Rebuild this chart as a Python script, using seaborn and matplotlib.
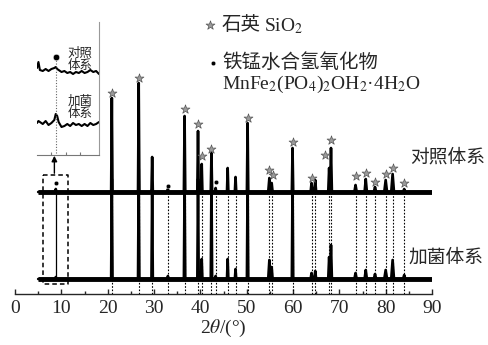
import numpy as np
import pandas as pd
import matplotlib
matplotlib.use('Agg')
import matplotlib.pyplot as plt
import seaborn as sns

# XRD peaks: position (2theta), height in control (top) and with bacteria (bottom)
peak_pos = [8.8, 20.9, 26.7, 29.6, 33.0, 36.6, 39.5, 40.3, 42.4, 43.3, 45.9, 47.6,
            50.2, 54.9, 55.4, 59.9, 64.0, 64.8, 67.8, 68.2, 73.5, 75.7, 77.7, 80.0, 81.5, 84.0]
top_height = [3, 94, 109, 35, 3, 76, 61, 28, 39, 4, 24, 15,
              69, 14, 9, 44, 9, 12, 24, 44, 7, 13, 5, 12, 18, 3]
bottom_height = [2, 100, 110, 90, 3, 100, 100, 20, 100, 3, 20, 10,
                 100, 19, 12, 100, 6, 8, 22, 34, 6, 9, 5, 9, 19, 4]
peak_width = [0.15, 0.15, 0.15, 0.15, 0.15, 0.15, 0.15, 0.15, 0.15, 0.15, 0.15, 0.15,
              0.15, 0.25, 0.2, 0.15, 0.2, 0.2, 0.2, 0.2, 0.25, 0.25, 0.25, 0.3, 0.3, 0.25]

# quartz stars and hydroxide dots (position, height above control baseline)
star_pos = [20.9, 26.7, 36.6, 39.5, 40.3, 42.4, 50.2, 54.8, 55.7, 59.9, 64.0,
            66.8, 68.2, 73.5, 75.7, 77.7, 80.0, 81.5, 84.0]
star_height = [99, 114, 83, 68, 36, 43, 74, 22, 17, 50, 14,
               37, 52, 16, 19, 10, 18, 24, 9]
dot_pos = [8.8, 33.0, 43.3]
dot_height = [9, 6, 10]

# inset (zoom 7.5-11.8 deg)
inset_x = [7.5, 7.6, 7.7, 7.9, 8.1, 8.3, 8.5, 8.7, 8.8, 8.9, 9.0, 9.2, 9.4, 9.6, 9.8,
           10.0, 10.2, 10.4, 10.6, 10.8, 11.0, 11.2, 11.4, 11.6, 11.8]
inset_top = [87, 93, 85, 84, 86, 84, 86, 87, 88, 86, 85, 83, 84, 82, 83, 81, 83, 82,
             84, 82, 83, 85, 83, 84, 81]
inset_bottom = [32, 34, 33, 31, 34, 30, 32, 35, 41, 39, 33, 28, 29, 31, 29, 32, 30, 31,
                29, 31, 29, 32, 30, 31, 33]

top_base = 102
bottom_base = 15
plt.rcParams['mathtext.fontset'] = 'stix'
sns.set_style('ticks')
plt.rcParams['font.family'] = ['Liberation Serif', 'Noto Sans CJK SC']


def trace(base, heights):
    xs, ys = [5.0], [base]
    for p, h, w in sorted(zip(peak_pos, heights, peak_width)):
        xs += [p - w, p, p + w]
        ys += [base, base + h, base]
    xs.append(90.0)
    ys.append(base)
    return pd.DataFrame({'two_theta': xs, 'intensity': ys})


fig = plt.figure(figsize=(4.88, 3.45), dpi=100)
ax = fig.add_axes([15 / 488, 51 / 345, 417 / 488, 294 / 345])
ax.patch.set_alpha(0)

# connectors between the two patterns
ax.vlines(peak_pos[1:], 0, top_base, colors='k', linestyles=(0, (1.5, 1.5)), lw=0.8)
ax.vlines([8.8], bottom_base, top_base, colors='k', lw=0.9)

for base, heights in [(bottom_base, bottom_height), (top_base, top_height)]:
    ax.hlines(base, 5.0, 90.0, colors='k', lw=3.5)
    sns.lineplot(data=trace(base, heights), x='two_theta', y='intensity',
                 sort=False, estimator=None, color='k', lw=1.9, ax=ax)

stars = pd.DataFrame({'x': star_pos, 'y': [top_base + h for h in star_height]})
sns.scatterplot(data=stars, x='x', y='y', marker='*', s=45, color='#9a9a9a',
                edgecolor='#555555', linewidth=0.5, ax=ax, zorder=5)
dots = pd.DataFrame({'x': dot_pos, 'y': [top_base + h for h in dot_height]})
sns.scatterplot(data=dots, x='x', y='y', marker='o', s=10, color='k', ax=ax, zorder=5)

# dashed box and arrow to inset
ax.plot([6.0, 11.4, 11.4, 6.0, 6.0], [119, 119, 10, 10, 119], 'k--', lw=1.1, dashes=(3, 2))
ax.annotate('', xy=(8.5, 141), xytext=(8.5, 118),
            arrowprops=dict(arrowstyle='-|>', color='k', lw=1.0, mutation_scale=8))

# legend marks
sns.scatterplot(x=[42.1], y=[269], marker='*', s=45, color='#9a9a9a',
                edgecolor='#555555', linewidth=0.5, ax=ax)
sns.scatterplot(x=[42.7], y=[231], marker='o', s=10, color='k', ax=ax)

ax.set_xlim(0, 90)
ax.set_ylim(0, 294)
ax.set_xticks(range(0, 91, 10))
ax.set_xticks(range(5, 90, 10), minor=True)
ax.set_yticks([])
for s in ['left', 'right', 'top']:
    ax.spines[s].set_visible(False)
ax.spines['bottom'].set_linewidth(1.0)
ax.tick_params(axis='x', which='major', direction='in', length=3.5, width=1.0, labelsize=14, pad=4)
ax.tick_params(axis='x', which='minor', direction='in', length=2, width=1.0)
ax.set_xlabel('2$\\it{θ}$/(°)', fontsize=14, labelpad=1)
ax.set_ylabel('')

fig.text(222 / 488, 1 - 25 / 345, '石英', fontsize=14, va='center')
fig.text(264 / 488, 1 - 26 / 345, 'SiO$_2$', fontsize=14, va='center')
fig.text(222 / 488, 1 - 63 / 345, '铁锰水合氢氧化物', fontsize=14, va='center')
fig.text(222 / 488, 1 - 84 / 345, 'MnFe$_2$(PO$_4$)$_2$OH$_2$·4H$_2$O', fontsize=14, va='center')
fig.text(410 / 488, 1 - 158 / 345, '对照体系', fontsize=13.5, va='center')
fig.text(408 / 488, 1 - 258 / 345, '加菌体系', fontsize=13.5, va='center')

# inset
axi = fig.add_axes([37 / 488, 1 - 155 / 345, 62 / 488, 133 / 345])
axi.patch.set_alpha(0)
sns.lineplot(x=inset_x, y=inset_top, sort=False, estimator=None, color='k', lw=1.5, ax=axi)
sns.lineplot(x=inset_x, y=inset_bottom, sort=False, estimator=None, color='k', lw=1.5, ax=axi)
axi.vlines([8.8], 2, 95, colors='#666666', linestyles=(0, (1, 1.5)), lw=0.8)
sns.scatterplot(x=[8.8], y=[98], marker='o', s=22, color='k', ax=axi)
axi.set_xlim(7.5, 11.8)
axi.set_ylim(0, 133)
axi.set_xticks([8.5, 9.5, 10.5])
axi.set_xticklabels([])
axi.set_yticks([])
axi.spines['left'].set_visible(False)
axi.spines['top'].set_visible(False)
axi.spines['right'].set_color('#999999')
axi.spines['bottom'].set_color('#777777')
axi.tick_params(axis='x', direction='in', length=2, color='#777777')
fig.text(80 / 488, 1 - 60 / 345, '对照\n体系', fontsize=9, ha='center', va='center', linespacing=1.0)
fig.text(80 / 488, 1 - 108 / 345, '加菌\n体系', fontsize=9, ha='center', va='center', linespacing=1.0)

fig.savefig('out.png', dpi=100)
